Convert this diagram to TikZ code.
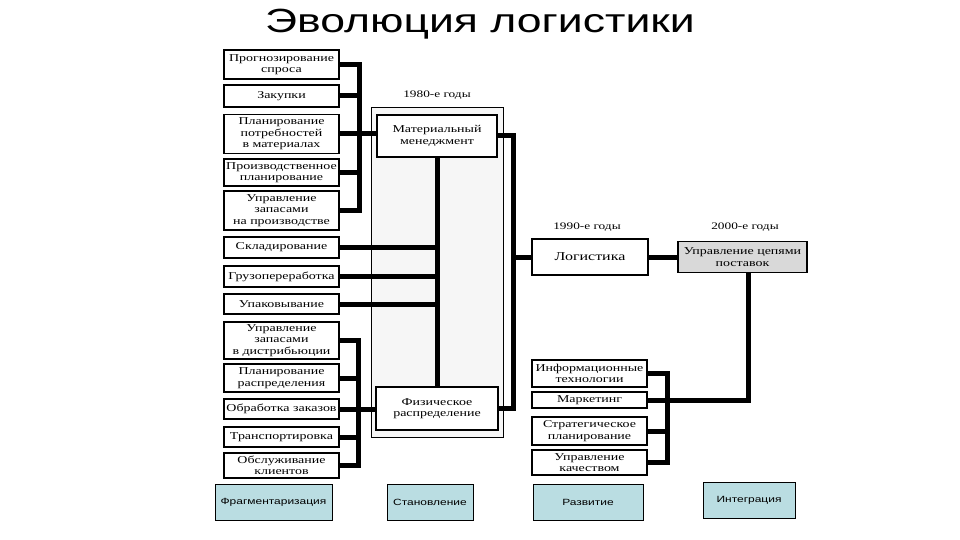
\documentclass[tikz,border=0pt]{standalone}
\usepackage{fontspec}
\setmainfont{Liberation Serif}[FakeStretch=1.33]
\newfontfamily\slidesans{Liberation Sans}[FakeStretch=1.33]
\usepackage{tikz}
\usepackage{xcolor}

\definecolor{stagefill}{RGB}{186,221,226}

\begin{document}
\begin{tikzpicture}[x=1pt, y=-1pt,
    box/.style={draw, line width=1.2pt, fill=white, align=center, inner sep=1pt,
        font=\fontsize{10.5}{11.5}\selectfont},
    fn/.style={box, minimum width=115pt},
    link/.style={line width=5pt},
    stage/.style={draw, line width=0.6pt, fill=stagefill, minimum height=36pt,
        font=\slidesans\fontsize{9}{10}\selectfont},
    year/.style={font=\fontsize{10}{12}\selectfont}]

    \useasboundingbox (0,0) rectangle (960,540);

    % Title
    \node[anchor=base, font=\slidesans\fontsize{33.5}{36}\selectfont] (heading) at (480,33) {Эволюция логистики};

    % Bus lines
    \coordinate (busA) at (359,0);   % upper left bus
    \coordinate (busB) at (358,0);   % lower left bus
    \coordinate (busC) at (513,0);   % right of 1980s
    \coordinate (busD) at (667,0);   % right group bus
    \coordinate (busE) at (748,0);   % drop from 2000s

    % 1980s frame
    \node[draw, line width=1pt, fill=gray!7, minimum width=132pt, minimum height=329pt] (era80) at (437,272.5) {};
    \node[year] (y80) at (437,95) {1980-е годы};
    \node[year] (y90) at (587,227) {1990-е годы};
    \node[year] (y00) at (745,227) {2000-е годы};

    % Left column
    \node[fn, minimum height=29pt] (prognoz) at (281.5,64.5) {Прогнозирование\\спроса};
    \node[fn, minimum height=22pt] (zakup) at (281.5,96) {Закупки};
    \node[fn, minimum height=39pt] (mrp) at (281.5,134) {Планирование\\потребностей\\в материалах};
    \node[fn, minimum height=27pt] (proizv) at (281.5,172.5) {Производственное\\планирование};
    \node[fn, minimum height=39pt] (zappr) at (281.5,210.5) {Управление\\запасами\\на производстве};
    \node[fn, minimum height=21pt] (sklad) at (281.5,247.5) {Складирование};
    \node[fn, minimum height=21pt] (gruz) at (281.5,276.5) {Грузопереработка};
    \node[fn, minimum height=20pt] (upak) at (281.5,304) {Упаковывание};
    \node[fn, minimum height=37pt] (zapdis) at (281.5,340.5) {Управление\\запасами\\в дистрибьюции};
    \node[fn, minimum height=28pt] (planr) at (281.5,378) {Планирование\\распределения};
    \node[fn, minimum height=20pt] (obrab) at (281.5,409) {Обработка заказов};
    \node[fn, minimum height=20pt] (transp) at (281.5,437) {Транспортировка};
    \node[fn, minimum height=25pt] (klient) at (281.5,465.5) {Обслуживание\\клиентов};

    % Middle boxes
    \node[box, minimum width=120pt, minimum height=42pt] (matmen) at (437,136) {Материальный\\менеджмент};
    \node[box, minimum width=122pt, minimum height=43pt] (fizras) at (437,408.5) {Физическое\\распределение};

    % Right boxes
    \node[box, minimum width=116pt, minimum height=36pt, font=\fontsize{12}{14}\selectfont] (logist) at (590,257) {Логистика};
    \node[box, fill=gray!30, minimum width=129pt, minimum height=31pt] (scm) at (742.5,257) {Управление цепями\\поставок};
    \node[fn, minimum height=27pt] (infot) at (589.5,373.5) {Информационные\\технологии};
    \node[fn, minimum height=16pt] (market) at (589.5,400) {Маркетинг};
    \node[fn, minimum height=28pt] (strat) at (589.5,431) {Стратегическое\\планирование};
    \node[fn, minimum height=25pt] (qual) at (589.5,462.5) {Управление\\качеством};

    % Upper left bus
    \draw[link] (prognoz.east) -- (prognoz.east -| busA);
    \draw[link] (zakup.east) -- (zakup.east -| busA);
    \draw[link] (proizv.east) -- (proizv.east -| busA);
    \draw[link] (zappr.east) -- (zappr.east -| busA);
    \draw[link, line cap=rect] (prognoz.east -| busA) -- (zappr.east -| busA);
    \draw[link] (mrp.east) -- (mrp.east -| matmen.west);

    % Lower left bus
    \draw[link] (zapdis.east) -- (zapdis.east -| busB);
    \draw[link] (planr.east) -- (planr.east -| busB);
    \draw[link] (transp.east) -- (transp.east -| busB);
    \draw[link] (klient.east) -- (klient.east -| busB);
    \draw[link, line cap=rect] (zapdis.east -| busB) -- (klient.east -| busB);
    \draw[link] (obrab.east) -- (obrab.east -| fizras.west);

    % Middle bus
    \draw[link] (matmen.south) -- (fizras.north);
    \draw[link] (sklad.east) -- (sklad.east -| matmen.south);
    \draw[link] (gruz.east) -- (gruz.east -| matmen.south);
    \draw[link] (upak.east) -- (upak.east -| matmen.south);

    % Right of 1980s
    \draw[link] (matmen.east) -| (busC |- fizras.east) -- (fizras.east);
    \draw[link] (logist.west -| busC) -- (logist.west);
    \draw[link] (logist.east) -- (scm.west);

    % Right group bus
    \draw[link] (infot.east) -- (infot.east -| busD);
    \draw[link] (strat.east) -- (strat.east -| busD);
    \draw[link] (qual.east) -- (qual.east -| busD);
    \draw[link, line cap=rect] (infot.east -| busD) -- (qual.east -| busD);
    \draw[link] (scm.south -| busE) |- (market.east);

    % Stages
    \node[stage, minimum width=117pt] (fragm) at (273.5,502) {Фрагментаризация};
    \node[stage, minimum width=86pt] (stanov) at (430,502) {Становление};
    \node[stage, minimum width=110pt] (razv) at (588,502) {Развитие};
    \node[stage, minimum width=92pt] (integr) at (749,500.5) {Интеграция};

\end{tikzpicture}
\end{document}
